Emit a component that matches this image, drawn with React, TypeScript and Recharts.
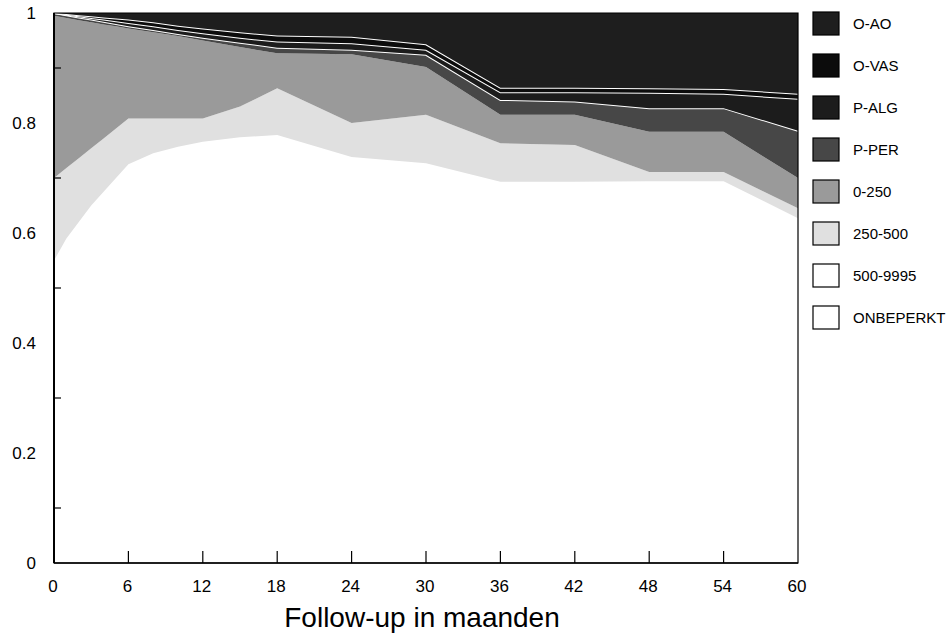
import React from 'react';
import { AreaChart, Area, XAxis, YAxis, ReferenceArea } from 'recharts';

// Follow-up time in months
const months = [0, 1, 2, 3, 4, 5, 6, 8, 10, 12, 15, 18, 24, 30, 36, 42, 48, 54, 60];

// Band thickness per category (fractions)
const onbeperkt = [0.35, 0.38, 0.40, 0.42, 0.44, 0.46, 0.48, 0.495, 0.507, 0.516, 0.524, 0.528, 0.498, 0.487, 0.463, 0.463, 0.464, 0.464, 0.417];
const s500_9995 = [0.20, 0.21, 0.22, 0.23, 0.235, 0.24, 0.245, 0.25, 0.25, 0.25, 0.25, 0.25, 0.24, 0.24, 0.23, 0.23, 0.23, 0.23, 0.21];
const s250_500 = [0.150, 0.128, 0.116, 0.104, 0.097, 0.090, 0.083, 0.063, 0.051, 0.042, 0.056, 0.085, 0.062, 0.088, 0.070, 0.067, 0.017, 0.017, 0.018];
const s0_250 = [0.295, 0.273, 0.251, 0.229, 0.207, 0.186, 0.164, 0.157, 0.150, 0.142, 0.108, 0.064, 0.125, 0.087, 0.052, 0.055, 0.073, 0.073, 0.055];
const pPER = [0.005, 0.005, 0.005, 0.005, 0.005, 0.004, 0.004, 0.004, 0.004, 0.005, 0.008, 0.010, 0.008, 0.022, 0.027, 0.024, 0.043, 0.043, 0.086];
const pALG = [0, 0.001, 0.002, 0.003, 0.004, 0.005, 0.006, 0.007, 0.007, 0.008, 0.009, 0.011, 0.012, 0.009, 0.014, 0.017, 0.028, 0.026, 0.058];
const oVAS = [0, 0.001, 0.002, 0.003, 0.004, 0.005, 0.006, 0.007, 0.008, 0.009, 0.010, 0.011, 0.012, 0.010, 0.008, 0.008, 0.008, 0.009, 0.009];
const oAO = [0, 0.002, 0.004, 0.006, 0.008, 0.010, 0.012, 0.017, 0.023, 0.028, 0.035, 0.041, 0.043, 0.057, 0.136, 0.136, 0.137, 0.138, 0.147];

const xTicks = [0, 6, 12, 18, 24, 30, 36, 42, 48, 54, 60];
const yTicks = [0, 0.1, 0.2, 0.3, 0.4, 0.5, 0.6, 0.7, 0.8, 0.9, 1];

// Series, bottom of stack first
const seriesKeys = ['ONBEPERKT', '500-9995', '250-500', '0-250', 'P-PER', 'P-ALG', 'O-VAS', 'O-AO'];
const seriesValues = [onbeperkt, s500_9995, s250_500, s0_250, pPER, pALG, oVAS, oAO];
const seriesFills = ['#ffffff', '#ffffff', '#e0e0e0', '#9a9a9a', '#474747', '#1c1c1c', '#0c0c0c', '#1e1e1e'];
const seriesStrokes = ['none', 'none', 'none', 'none', '#ffffff', '#ffffff', '#ffffff', 'none'];

// Legend order (top to bottom)
const legendOrder = ['O-AO', 'O-VAS', 'P-ALG', 'P-PER', '0-250', '250-500', '500-9995', 'ONBEPERKT'];

const xTitle = 'Follow-up in maanden';

const data = months.map((m, i) => {
  const row: Record<string, number> = { month: m };
  seriesKeys.forEach((k, j) => {
    row[k] = seriesValues[j][i];
  });
  return row;
});

const FONT = 'Liberation Sans, Arial, Helvetica, sans-serif';

const XTick = (props: any) => {
  const { x, y, payload } = props;
  const v = payload.value;
  return (
    <g>
      {v > 0 && v < 60 && (
        <line x1={x} x2={x} y1={y} y2={y - 12} stroke="#000" strokeWidth={1.2} />
      )}
      <text x={x - 1} y={y + 23} textAnchor="middle" dominantBaseline="central" fontSize={17} fontFamily={FONT} fill="#000">
        {v}
      </text>
    </g>
  );
};

const YTick = (props: any) => {
  const { x, y, payload } = props;
  const v = payload.value;
  const tenth = Math.round(v * 10);
  if (tenth % 2 === 1) {
    return <line x1={x} x2={x + 7} y1={y} y2={y} stroke="#000" strokeWidth={1.2} />;
  }
  const label = tenth === 10 ? '1' : tenth === 0 ? '0' : (tenth / 10).toFixed(1);
  return (
    <text x={x - 18} y={y} textAnchor="end" dominantBaseline="central" fontSize={17} fontFamily={FONT} fill="#000">
      {label}
    </text>
  );
};

export default function App() {
  return (
    <div style={{ position: 'absolute', left: 0, top: 0, width: 952, height: 634, background: '#fff' }}>
      <AreaChart width={952} height={634} data={data} margin={{ top: 13, right: 154, bottom: 0, left: 0 }}>
        <XAxis
          dataKey="month"
          type="number"
          domain={[0, 60]}
          ticks={xTicks}
          allowDataOverflow
          height={71}
          tickSize={0}
          tickMargin={0}
          tickLine={false}
          axisLine={{ stroke: '#000', strokeWidth: 1.5 }}
          tick={<XTick />}
          interval={0}
        />
        <YAxis
          type="number"
          domain={[0, 1]}
          ticks={yTicks}
          allowDataOverflow
          width={54}
          tickSize={0}
          tickMargin={0}
          tickLine={false}
          axisLine={{ stroke: '#000', strokeWidth: 2 }}
          tick={<YTick />}
          interval={0}
        />
        {seriesKeys.map((k, j) => (
          <Area
            key={k}
            type="linear"
            dataKey={k}
            stackId="1"
            fill={seriesFills[j]}
            fillOpacity={1}
            stroke={seriesStrokes[j]}
            strokeWidth={seriesStrokes[j] === 'none' ? 0 : 2}
            isAnimationActive={false}
            dot={false}
            activeDot={false}
          />
        ))}
        <ReferenceArea x1={0} x2={60} y1={0} y2={1} fill="none" fillOpacity={0} stroke="#000" strokeWidth={1.2} ifOverflow="visible" />
      </AreaChart>
      <svg width={952} height={634} style={{ position: 'absolute', left: 0, top: 0, pointerEvents: 'none' }}>
        {legendOrder.map((name, i) => {
          const j = seriesKeys.indexOf(name);
          const cy = 23.5 + i * 42;
          return (
            <g key={name}>
              <rect x={813} y={cy - 11.5} width={26} height={23} fill={seriesFills[j]} stroke="#000" strokeWidth={1.2} />
              <text x={853} y={cy} dominantBaseline="central" fontSize={15} fontFamily={FONT} fill="#000">
                {name}
              </text>
            </g>
          );
        })}
        <text x={422} y={627} textAnchor="middle" fontSize={28} fontFamily={FONT} fill="#000">
          {xTitle}
        </text>
      </svg>
    </div>
  );
}
